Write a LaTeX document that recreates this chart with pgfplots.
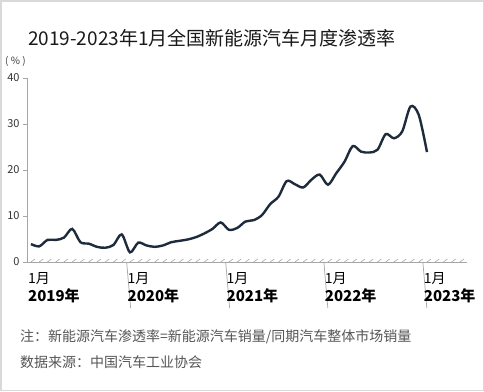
\documentclass[border=0pt]{standalone}
\usepackage{fontspec}
\setmainfont{Noto Sans CJK SC}
\usepackage{pgfplots}
\pgfplotsset{compat=1.18}
\definecolor{curve}{HTML}{1E2B3C}
\definecolor{axisgray}{HTML}{A6A6A6}
\definecolor{txtgray}{HTML}{555555}
\definecolor{framegray}{HTML}{D9D9D9}
\begin{document}
\begin{tikzpicture}
\path[use as bounding box] (0,0) rectangle (484pt,-391pt);
\fill[white] (0,0) rectangle (484pt,-391pt);
\draw[framegray, line width=1.5pt] (0.75pt,-0.75pt) rectangle (483.25pt,-390.25pt);
\node[anchor=west, inner sep=0, font=\fontsize{19}{21}\selectfont, text=black!90] at (28pt,-38pt) {2019-2023年1月全国新能源汽车月度渗透率};
\node[anchor=west, inner sep=0, font=\fontsize{10}{11}\selectfont, text=black!75] at (5pt,-61pt) {( \% )};
\node[anchor=west, inner sep=0, font=\fontsize{14}{16}\selectfont, text=txtgray] at (20pt,-337pt) {注：新能源汽车渗透率=新能源汽车销量/同期汽车整体市场销量};
\node[anchor=west, inner sep=0, font=\fontsize{14}{16}\selectfont, text=txtgray] at (20pt,-362pt) {数据来源：中国汽车工业协会};
\begin{axis}[
  at={(27pt,-262pt)}, anchor=south west,
  scale only axis, width=440pt, height=184pt,
  xmin=-0.48, xmax=52.85, ymin=0, ymax=40,
  axis x line*=bottom, axis y line*=left,
  axis line style={axisgray, line width=0.8pt},
  xtick=\empty,
  ytick={0,10,20,30,40},
  tick align=outside, major tick length=4pt,
  tick style={axisgray, line width=0.6pt},
  yticklabel style={font=\fontsize{11}{12}\selectfont, text=black!80},
  /pgf/number format/assume math mode=true,
  clip=false,
]
\addplot[curve, line width=2.4pt, smooth, tension=0.5] coordinates {
(0,3.9) (1,3.4) (2,4.8) (3,4.8) (4,5.3) (5,7.2) (6,4.3) (7,4.0) (8,3.3) (9,3.1) (10,3.7) (11,6.0)
(12,2.1) (13,4.2) (14,3.6) (15,3.3) (16,3.6) (17,4.3) (18,4.6) (19,4.9) (20,5.4) (21,6.2) (22,7.2) (23,8.6)
(24,7.0) (25,7.4) (26,8.8) (27,9.1) (28,10.2) (29,12.6) (30,14.2) (31,17.6) (32,16.9) (33,16.2) (34,17.9) (35,19.0)
(36,16.8) (37,19.3) (38,21.8) (39,25.2) (40,24.0) (41,23.8) (42,24.4) (43,27.8) (44,26.9) (45,28.4) (46,33.8) (47,32.0)
(48,23.9)
};
\pgfplotsinvokeforeach{0,...,52}{\draw[axisgray, line width=0.6pt] (axis cs:#1,0) -- ++(0,3pt);}
\pgfplotsinvokeforeach{11.6,23.6,35.5,47.5}{\draw[axisgray, line width=0.7pt] (axis cs:#1,0) -- ++(0,-46pt);}
\pgfplotsinvokeforeach{-0.36,11.7,23.7,35.6,47.6}{
  \node[anchor=west, inner sep=0, font=\fontsize{14}{16}\selectfont] at ([yshift=-17pt]axis cs:#1,0) {1月};
}
\node[anchor=west, inner sep=0, font=\fontsize{15}{17}\selectfont\bfseries] at ([yshift=-34pt]axis cs:-0.36,0) {2019年};
\node[anchor=west, inner sep=0, font=\fontsize{15}{17}\selectfont\bfseries] at ([yshift=-34pt]axis cs:11.7,0) {2020年};
\node[anchor=west, inner sep=0, font=\fontsize{15}{17}\selectfont\bfseries] at ([yshift=-34pt]axis cs:23.7,0) {2021年};
\node[anchor=west, inner sep=0, font=\fontsize{15}{17}\selectfont\bfseries] at ([yshift=-34pt]axis cs:35.6,0) {2022年};
\node[anchor=west, inner sep=0, font=\fontsize{15}{17}\selectfont\bfseries] at ([yshift=-34pt]axis cs:47.6,0) {2023年};
\end{axis}
\end{tikzpicture}
\end{document}
